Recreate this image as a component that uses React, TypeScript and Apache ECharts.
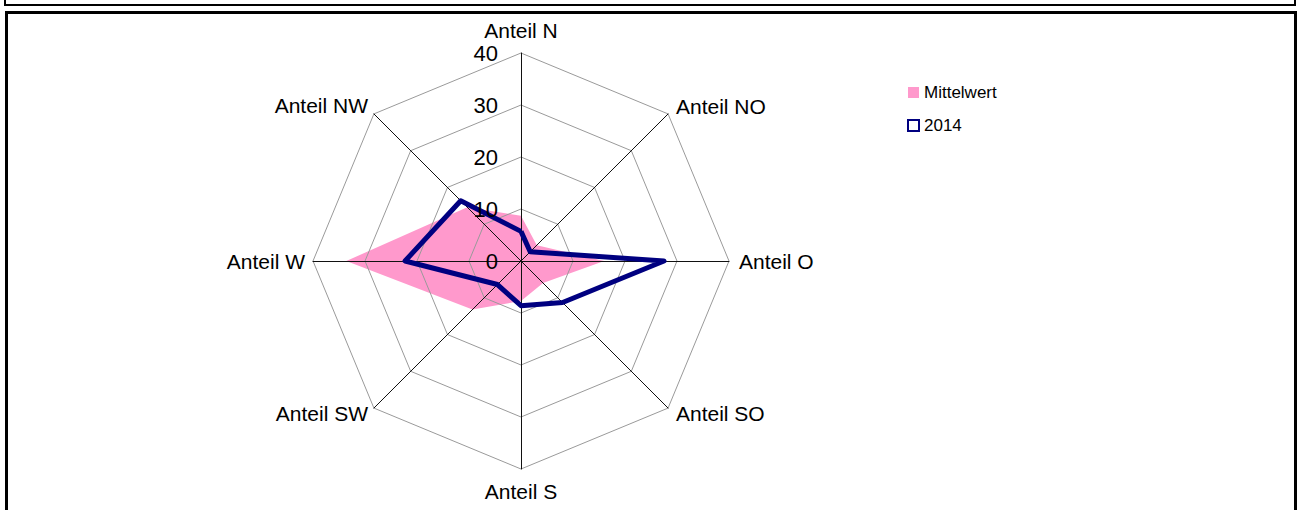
import React, { useEffect, useRef } from "react";
import * as echarts from "echarts";

const categories = ["Anteil N", "Anteil NO", "Anteil O", "Anteil SO", "Anteil S", "Anteil SW", "Anteil W", "Anteil NW"];
const mittelwert = [8.7, 4.3, 16, 6, 7.7, 13.2, 33.6, 14.6];
const year2014 = [5.7, 2.5, 27.5, 11.3, 8.6, 6.4, 22.3, 16.4];
const tickValues = [0, 10, 20, 30, 40];
const seriesNames = ["Mittelwert", "2014"];

// ECharts radar runs counter-clockwise; the reference runs clockwise from N
const order = [0, 7, 6, 5, 4, 3, 2, 1];

const CX = 521;
const CY = 261;
const R = 208;
const MAX = 40;
const FONT = "'Liberation Sans', Arial, sans-serif";

const namePos: Array<[number, number, string]> = [
  [521, 30, "center"],
  [676, 106, "left"],
  [739, 261, "left"],
  [676, 413, "left"],
  [521, 491, "center"],
  [368, 413, "right"],
  [305, 261, "right"],
  [368, 105, "right"],
];

export default function App() {
  const ref = useRef<HTMLDivElement>(null);
  useEffect(() => {
    if (!ref.current) return;
    const chart = echarts.init(ref.current, null, { renderer: "svg" });
    const nameTexts = categories.map((c, i) => ({
      type: "text",
      x: namePos[i][0],
      y: namePos[i][1],
      z: 10,
      style: {
        text: c,
        fill: "#000",
        font: `21px ${FONT}`,
        align: namePos[i][2],
        verticalAlign: "middle",
      },
    }));
    const tickTexts = tickValues.map((v) => ({
      type: "text",
      x: 498,
      y: CY - (v / MAX) * R,
      z: 10,
      style: {
        text: String(v),
        fill: "#000",
        font: `22px ${FONT}`,
        align: "right",
        verticalAlign: "middle",
      },
    }));
    chart.setOption({
      animation: false,
      backgroundColor: "#fff",
      legend: {
        orient: "vertical",
        left: 907,
        top: 84,
        itemWidth: 11,
        itemHeight: 11,
        itemGap: 16,
        padding: 0,
        textStyle: { fontSize: 17, color: "#000", fontFamily: FONT },
        data: [
          { name: seriesNames[0], icon: "rect", itemStyle: { color: "#FF99CC", borderWidth: 0 } },
          { name: seriesNames[1], icon: "rect", itemStyle: { color: "#fff", borderColor: "#000080", borderWidth: 2 } },
        ],
      },
      radar: {
        center: [CX, CY],
        radius: R,
        startAngle: 90,
        shape: "polygon",
        splitNumber: 4,
        z: 2,
        indicator: order.map((i) => ({ name: categories[i], min: 0, max: MAX })),
        axisName: { show: false },
        axisLine: { lineStyle: { color: "#111", width: 1 } },
        splitLine: { lineStyle: { color: "#9a9a9a", width: 1 } },
        splitArea: { show: false },
        axisTick: { show: false },
        axisLabel: { show: false },
      },
      series: [
        {
          type: "radar",
          z: 1,
          symbol: "none",
          data: [
            {
              name: seriesNames[0],
              value: order.map((i) => mittelwert[i]),
              lineStyle: { width: 0, color: "#FF99CC" },
              areaStyle: { color: "#FF99CC", opacity: 1 },
              itemStyle: { color: "#FF99CC" },
            },
          ],
        },
        {
          type: "radar",
          z: 3,
          symbol: "none",
          data: [
            {
              name: seriesNames[1],
              value: order.map((i) => year2014[i]),
              lineStyle: { width: 5, color: "#000080" },
              itemStyle: { color: "#000080" },
            },
          ],
        },
      ],
      graphic: [
        {
          type: "rect",
          shape: { x: 5, y: -20, width: 1290, height: 25 },
          style: { fill: "none", stroke: "#000", lineWidth: 2 },
          z: 20,
        },
        {
          type: "rect",
          shape: { x: 6.5, y: 12.5, width: 1289, height: 520 },
          style: { fill: "none", stroke: "#000", lineWidth: 3 },
          z: 20,
        },
        ...nameTexts,
        ...tickTexts,
      ],
    });
    return () => chart.dispose();
  }, []);
  return (
    <div
      ref={ref}
      style={{ position: "fixed", left: 0, top: 0, width: 1298, height: 510, background: "#fff" }}
    />
  );
}
